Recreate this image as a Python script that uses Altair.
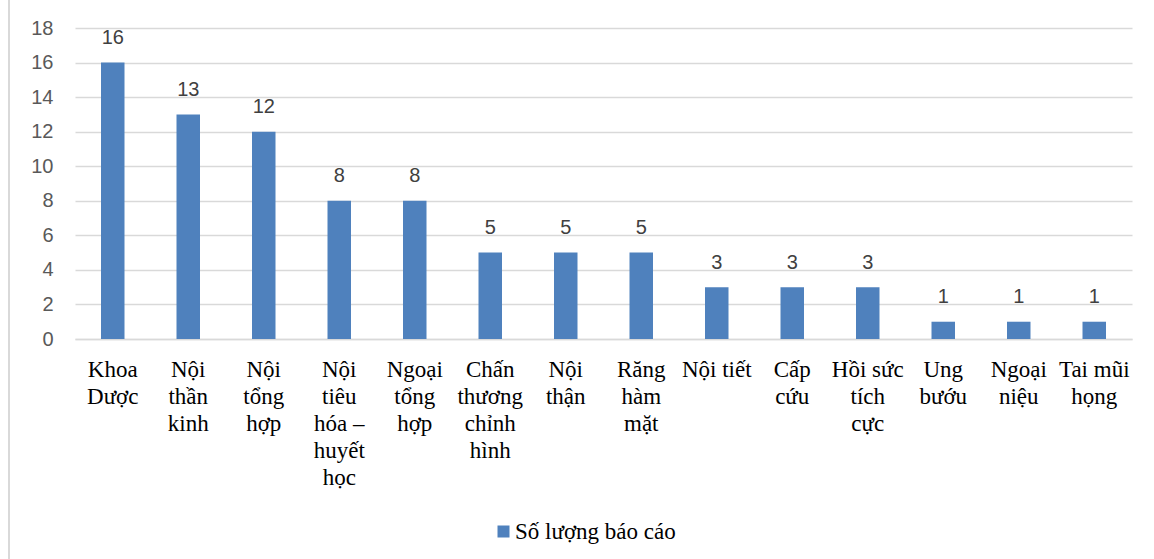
import altair as alt
import pandas as pd

categories = [
    "Khoa\nDược", "Nội\nthần\nkinh", "Nội\ntổng\nhợp", "Nội\ntiêu\nhóa –\nhuyết\nhọc",
    "Ngoại\ntổng\nhợp", "Chấn\nthương\nchỉnh\nhình", "Nội\nthận", "Răng\nhàm\nmặt",
    "Nội tiết", "Cấp\ncứu", "Hồi sức\ntích\ncực", "Ung\nbướu", "Ngoại\nniệu", "Tai mũi\nhọng",
]
values = [16, 13, 12, 8, 8, 5, 5, 5, 3, 3, 3, 1, 1, 1]
series_name = "Số lượng báo cáo"
y_ticks = [0, 2, 4, 6, 8, 10, 12, 14, 16, 18]

df = pd.DataFrame({"cat": categories, "val": values, "series": series_name})

W, H = 1057, 311
BLUE = "#4f81bd"
SERIF = "Liberation Serif"
SANS = "Liberation Sans"

x_scale = alt.Scale(paddingInner=0.69, paddingOuter=0.345)
y_scale = alt.Scale(domain=[0, 18], nice=False)

x = alt.X(
    "cat:N",
    sort=categories,
    title=None,
    scale=x_scale,
    axis=alt.Axis(
        labelExpr="split(datum.label, '\\n')",
        labelAngle=0,
        labelFont=SERIF,
        labelFontSize=23,
        labelColor="#000000",
        labelLineHeight=27,
        labelBaseline="top",
        labelPadding=19,
        labelLimit=200,
        labelOverlap=False,
        ticks=False,
        domainColor="#d9d9d9",
        domainWidth=1.5,
        grid=False,
    ),
)
y = alt.Y(
    "val:Q",
    title=None,
    scale=y_scale,
    axis=alt.Axis(
        values=y_ticks,
        labelFont=SANS,
        labelFontSize=20,
        labelColor="#595959",
        labelPadding=22,
        labelOverlap=False,
        labelFlush=False,
        ticks=False,
        domain=False,
        gridColor="#d9d9d9",
        gridWidth=1.5,
    ),
)

bars = alt.Chart(df).mark_bar(size=23.5).encode(
    x=x,
    y=y,
    color=alt.Color(
        "series:N",
        scale=alt.Scale(range=[BLUE]),
        legend=alt.Legend(
            title=None,
            orient="none",
            legendX=417,
            legendY=492,
            symbolType="square",
            symbolSize=144,
            symbolStrokeWidth=0,
            labelFont=SERIF,
            labelFontSize=23,
            labelColor="#000000",
            labelOffset=0,
            labelLimit=500,
        ),
    ),
)

labels = alt.Chart(df).mark_text(
    dy=-18.5, baseline="alphabetic", font=SANS, fontSize=20, color="#404040"
).encode(x=x, y=y, text="val:Q")

border = alt.Chart(df).mark_rule(color="#d9d9d9", strokeWidth=2).encode(
    x=alt.value(-66), y=alt.value(-28), y2=alt.value(531)
)

chart = (
    alt.layer(bars, labels, border)
    .properties(
        width=W,
        height=H,
        autosize=alt.AutoSizeParams(type="none"),
        padding={"left": 75, "top": 28, "right": 22, "bottom": 220},
    )
    .configure(background="#ffffff")
    .configure_view(stroke=None)
)

chart.save("out.html", embed_options={"renderer": "svg", "actions": False})
